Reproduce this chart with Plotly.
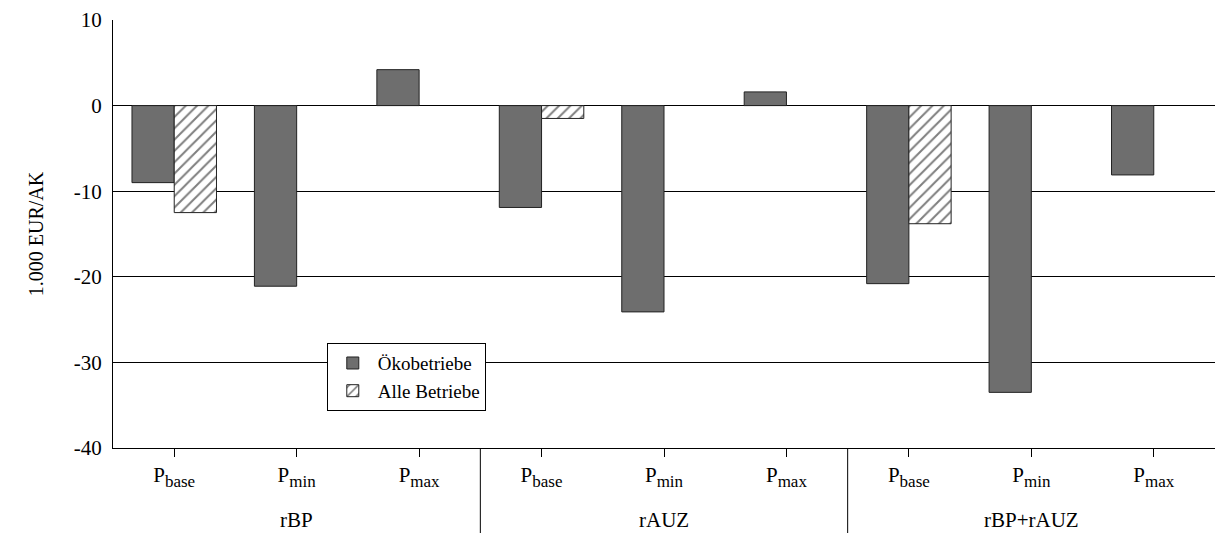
# Szenarien: Veränderung Einkommen je AK
import plotly.graph_objects as go

# ----------------------------------------------------------------------------------------------------------------------
# Data
# ----------------------------------------------------------------------------------------------------------------------
groups = ['rBP', 'rAUZ', 'rBP+rAUZ']
price_subs = ['base', 'min', 'max']
oeko = [-9.0, -21.1, 4.2, -11.9, -24.1, 1.6, -20.8, -33.5, -8.1]
alle = [-12.5, None, None, -1.5, None, None, -13.8, None, None]
y_ticks = [-40, -30, -20, -10, 0, 10]
y_tick_text = ['-40', '-30', '-20', '-10', '0', '10']

# ----------------------------------------------------------------------------------------------------------------------
# Figure
# ----------------------------------------------------------------------------------------------------------------------
font_name = 'Liberation Serif'
x_pos = list(range(len(oeko)))
prices = [f"P<sub><span style='font-size:17px'>{s}</span></sub>" for s in price_subs]
tick_text = prices * len(groups)

fig = go.Figure()
fig.add_trace(go.Bar(x=x_pos, y=oeko, name='Ökobetriebe',
                     marker=dict(color='#6e6e6e', line=dict(color='#222222', width=1))))
fig.add_trace(go.Bar(x=x_pos, y=alle, name='Alle Betriebe',
                     marker=dict(color='white', line=dict(color='#222222', width=1),
                                 pattern=dict(shape='/', fgcolor='black', bgcolor='white',
                                              size=8, solidity=0.25))))

fig.update_layout(barmode='group', bargap=0.31, bargroupgap=0,
                  width=1215, height=533, margin=dict(l=113, r=0, t=20, b=85),
                  plot_bgcolor='white', paper_bgcolor='white',
                  font=dict(family=font_name, size=21, color='black'),
                  legend=dict(x=0.194, y=0.245, xanchor='left', yanchor='top',
                              bgcolor='white', bordercolor='black', borderwidth=1,
                              font=dict(size=19, color='black'), itemwidth=40, tracegroupgap=0))

# Axes
fig.update_xaxes(range=[-0.5, len(oeko) - 0.5], tickvals=x_pos, ticktext=tick_text,
                 showgrid=False, zeroline=False, showline=True, linecolor='black', linewidth=1,
                 ticks='outside', ticklen=8, tickcolor='black', tickfont=dict(size=21, color='black'))
fig.update_yaxes(range=[-40, 10], tickvals=y_ticks, ticktext=y_tick_text,
                 showgrid=True, gridcolor='black', gridwidth=1,
                 zeroline=True, zerolinecolor='black', zerolinewidth=1,
                 showline=True, linecolor='black', linewidth=1, ticks='', ticklabelstandoff=6,
                 tickfont=dict(size=21, color='black'),
                 title_text='1.000 EUR/AK', title_font=dict(size=20, color='black'), title_standoff=24)

# Group labels and separators
n = len(price_subs)
for g, name in enumerate(groups):
    fig.add_annotation(x=g * n + (n - 1) / 2, y=-0.168, xref='x', yref='paper', text=name,
                       showarrow=False, yanchor='middle', font=dict(size=21, color='black'))
    if g > 0:
        fig.add_shape(type='line', x0=g * n - 0.5, x1=g * n - 0.5, y0=0, y1=-0.2,
                      xref='x', yref='paper', line=dict(color='black', width=1))

fig.write_html('out.html', config={'displayModeBar': False},
               post_script="document.body.style.margin='0';")
